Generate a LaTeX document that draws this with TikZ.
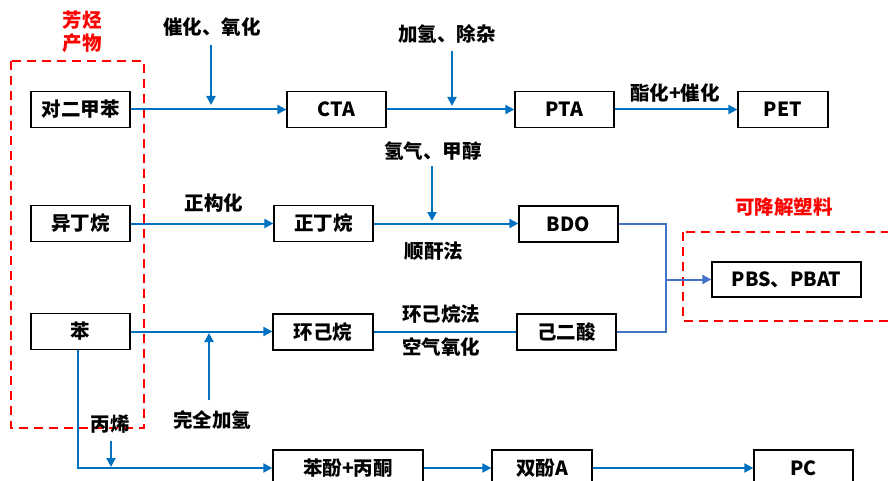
\documentclass[tikz,border=0pt]{standalone}
\usepackage{fontspec}
\setmainfont{Noto Sans CJK SC}
\usetikzlibrary{arrows.meta}
\definecolor{flow}{HTML}{0070C0}
\definecolor{merge}{HTML}{4472C4}
\definecolor{grp}{HTML}{FF0000}
\tikzset{
  box/.style={draw=black, line width=1.3pt, minimum height=36pt, inner sep=0pt, font=\fontsize{19.5}{21}\selectfont\bfseries},
  lbl/.style={inner sep=0pt, font=\fontsize{19.5}{21}\selectfont\bfseries},
  rlbl/.style={inner sep=0pt, text=grp, font=\fontsize{19.5}{22.5}\selectfont\bfseries, align=center},
  arr/.style={draw=flow, line width=2pt, -{Triangle[length=9pt,width=9pt]}},
  ln/.style={draw=flow, line width=2pt},
  marr/.style={draw=merge, line width=2pt, -{Triangle[length=9pt,width=9pt]}},
  mln/.style={draw=merge, line width=2pt},
  grpbox/.style={draw=grp, line width=2.2pt, dash pattern=on 9pt off 6pt}
}
\begin{document}
\begin{tikzpicture}[x=1pt,y=-1pt]
\useasboundingbox (0,0) rectangle (888,481);
\clip (0,0) rectangle (888,481);
% group boxes
\draw[grpbox] (11,61) rectangle (144,428);
\draw[grpbox] (683,232) rectangle (900,321);
\node[rlbl] (g1) at (82,31.5) {芳烃\\产物};
\node[rlbl] (g2) at (784,207) {可降解塑料};
% row 1
\node[box, minimum width=99pt] (px)  at (80.5,109.5) {对二甲苯};
\node[box, minimum width=99pt] (cta) at (336.5,109.5) {CTA};
\node[box, minimum width=99pt] (pta) at (564.5,109.5) {PTA};
\node[box, minimum width=90pt] (pet) at (783,109.5) {PET};
% row 2
\node[box, minimum width=99pt] (ibu) at (80.5,223.5) {异丁烷};
\node[box, minimum width=99pt] (nbu) at (323.5,223.5) {正丁烷};
\node[box, minimum width=99pt] (bdo) at (568.5,224) {BDO};
% row 3
\node[box, minimum width=99pt] (ben) at (80.5,331.5) {苯};
\node[box, minimum width=100pt] (chx) at (323,332) {环己烷};
\node[box, minimum width=99pt] (adi) at (566.5,332) {己二酸};
% row 4
\node[box, minimum width=150pt] (pba) at (348,468) {苯酚+丙酮};
\node[box, minimum width=100pt] (bpa) at (542,468) {双酚A};
\node[box, minimum width=99pt] (pc)  at (803.5,468) {PC};
% PBS
\node[box, minimum width=149pt, minimum height=35pt] (pbs) at (786.5,279.5) {PBS、PBAT};
% labels
\node[lbl] (l1) at (212,27) {催化、氧化};
\node[lbl] (l2) at (447,34) {加氢、除杂};
\node[lbl] (l3) at (675,93) {酯化+催化};
\node[lbl] (l4) at (433,151) {氢气、甲醇};
\node[lbl] (l5) at (214,203) {正构化};
\node[lbl] (l6) at (434,251) {顺酐法};
\node[lbl] (l7) at (441,314) {环己烷法};
\node[lbl] (l8) at (441,347) {空气氧化};
\node[lbl] (l9) at (212,420) {完全加氢};
\node[lbl] (l10) at (110,424) {丙烯};
% main flows
\draw[arr] (px) -- (cta);
\draw[arr] (cta) -- (pta);
\draw[arr] (pta) -- (pet);
\draw[arr] (ibu.east) -- (nbu.west);
\draw[arr] (nbu.east) -- (bdo.west |- nbu.east);
\draw[arr] (ben.east) -- (chx.west |- ben.east);
\draw[ln] (chx.east) -- (adi.west |- chx.east);
\coordinate (bdown) at ([xshift=-2.5pt]ben.south);
\draw[arr] (bdown) |- (pba.west);
\draw[arr] (pba) -- (bpa);
\draw[arr] (bpa) -- (pc);
% side inputs
\coordinate (c1a) at (211,45);  \coordinate (c1b) at (211,105);
\coordinate (c2a) at (452,51);  \coordinate (c2b) at (452,106);
\coordinate (c4a) at (432,166); \coordinate (c4b) at (432,221);
\coordinate (c9a) at (209,400); \coordinate (c9b) at (209,333);
\coordinate (c10a) at (111,441); \coordinate (c10b) at (111,467);
\draw[arr] (c1a) -- (c1b);
\draw[arr] (c2a) -- (c2b);
\draw[arr] (c4a) -- (c4b);
\draw[arr] (c9a) -- (c9b);
\draw[arr] (c10a) -- (c10b);
% merge to PBS
\coordinate (mj) at (666,279.5);
\draw[mln] (bdo.east) -| (mj);
\draw[mln] (adi.east) -| (mj);
\draw[marr] (mj) -- (pbs.west);
\end{tikzpicture}
\end{document}
